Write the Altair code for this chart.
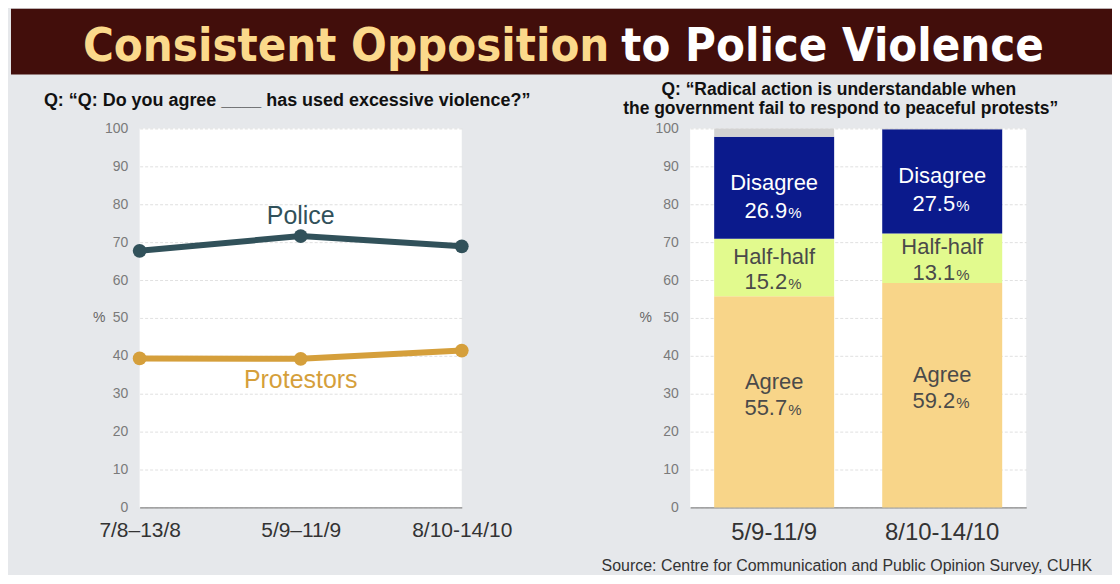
import altair as alt
import pandas as pd

# ---------------- data ----------------
line_periods = ["7/8–13/8", "5/9–11/9", "8/10-14/10"]
police = [67.7, 71.6, 68.9]
protestors = [39.3, 39.2, 41.4]

bar_periods = ["5/9-11/9", "8/10-14/10"]
agree = [55.7, 59.2]
halfhalf = [15.2, 13.1]
disagree = [26.9, 27.5]
other = [2.2, 0.2]

y_ticks = [0, 10, 20, 30, 40, 50, 60, 70, 80, 90, 100]

title_a = "Consistent Opposition"
title_b = "to Police Violence"
sub_left = "Q: “Q: Do you agree ____ has used excessive violence?”"
sub_right = ["Q: “Radical action is understandable when",
             "the government fail to respond to peaceful protests”"]
source = "Source: Centre for Communication and Public Opinion Survey, CUHK"

# ---------------- style ----------------
FONT = "Helvetica Neue, Liberation Sans, Arial, sans-serif"
COND = "Liberation Sans Narrow, DejaVu Sans Condensed, Arial Narrow, sans-serif"
BG = "#E6E8EB"
POLICE_C = "#31515A"
PROT_C = "#D59F3B"
W_L, W_R, H = 323, 337, 380

one = pd.DataFrame({"k": [0]})


def y_axis(title_x):
    return alt.Axis(values=y_ticks, title="%", titleAngle=0, titleFontSize=14,
                    titleFontWeight="normal", titleColor="#666", titleFont=FONT,
                    titleX=title_x, titleY=H / 2, titleAlign="center",
                    titleBaseline="middle",
                    labelFontSize=14, labelColor="#7a7a7a", labelFont=FONT,
                    labelPadding=12, tickSize=0, domain=False,
                    grid=True, gridColor="#D8D8D8", gridDash=[3, 2], gridWidth=0.8)


def y_enc(field, axis):
    return alt.Y(field, type="quantitative",
                 scale=alt.Scale(domain=[0, 100], nice=False),
                 axis=axis)


# ---------------- banner ----------------
banner_bg = alt.Chart(one).mark_rect(color="#420E0B").encode(
    x=alt.value(0), x2=alt.value(1104), y=alt.value(0), y2=alt.value(66))
banner_a = alt.Chart(one).mark_text(
    text=title_a, align="right", baseline="alphabetic", font=COND,
    fontSize=47, fontWeight="bold", color="#FBD98B").encode(
    x=alt.value(600), y=alt.value(52))
banner_b = alt.Chart(one).mark_text(
    text=title_b, align="left", baseline="alphabetic", font=COND,
    fontSize=47, fontWeight="bold", color="#FFFFFF").encode(
    x=alt.value(612), y=alt.value(52))
banner = alt.layer(banner_bg, banner_a, banner_b).properties(width=1104, height=66)

# ---------------- left: line chart ----------------
line_df = pd.DataFrame({
    "period": line_periods * 2,
    "series": ["Police"] * len(police) + ["Protestors"] * len(protestors),
    "value": police + protestors,
})
color_scale = alt.Scale(domain=["Police", "Protestors"], range=[POLICE_C, PROT_C])

x_line = alt.X("period:N", sort=line_periods,
               scale=alt.Scale(type="point", padding=0),
               axis=alt.Axis(title=None, labelAngle=0, labelFontSize=21,
                             labelColor="#333", labelFont=FONT, labelPadding=12,
                             tickSize=0, domainColor="#8a8a8a", domainWidth=1.2,
                             grid=False))

ya_l = y_axis(-41)
lines = alt.Chart(line_df).mark_line(strokeWidth=6).encode(
    x=x_line, y=y_enc("value", ya_l),
    color=alt.Color("series:N", scale=color_scale, legend=None))
pts = alt.Chart(line_df).mark_circle(size=190, opacity=1).encode(
    x=x_line, y=y_enc("value", ya_l),
    color=alt.Color("series:N", scale=color_scale, legend=None))

lab_df = pd.DataFrame({
    "period": [line_periods[1], line_periods[1]],
    "series": ["Police", "Protestors"],
    "value": [police[1], protestors[1]],
})
lab_police = alt.Chart(lab_df).transform_filter("datum.series == 'Police'").mark_text(
    fontSize=25, font=FONT, dy=-20, baseline="middle", color=POLICE_C).encode(
    x=x_line, y=y_enc("value", ya_l), text="series:N")
lab_prot = alt.Chart(lab_df).transform_filter("datum.series == 'Protestors'").mark_text(
    fontSize=25, font=FONT, dy=21, baseline="middle", color=PROT_C).encode(
    x=x_line, y=y_enc("value", ya_l), text="series:N")

sub_l = alt.Chart(one).mark_text(
    text=sub_left, align="left", baseline="alphabetic", font=FONT,
    fontSize=18, fontWeight="bold", color="#111").encode(
    x=alt.value(-96), y=alt.value(-23))

left = alt.layer(lines, pts, lab_police, lab_prot, sub_l).properties(
    width=W_L, height=H, view=alt.ViewBackground(fill="white", stroke=None))

# ---------------- right: stacked bars ----------------
cats = ["Agree", "Half-half", "Disagree", "Other"]
rows = []
for i, p in enumerate(bar_periods):
    lo = 0.0
    for c, v in zip(cats, [agree[i], halfhalf[i], disagree[i], other[i]]):
        rows.append({"period": p, "cat": c, "value": v, "lo": lo, "hi": lo + v,
                     "mid": lo + v / 2, "num": f"{v:.1f}"})
        lo += v
bar_df = pd.DataFrame(rows)

x_bar = alt.X("period:N", sort=bar_periods,
              scale=alt.Scale(paddingInner=0.286, paddingOuter=0.143),
              axis=alt.Axis(title=None, labelAngle=0, labelFontSize=24,
                            labelColor="#333", labelFont=FONT, labelPadding=13,
                            tickSize=0, domainColor="#8a8a8a", domainWidth=1.2,
                            grid=False))

ya_r = y_axis(-45)
bar_colors = alt.Scale(domain=cats, range=["#F8D589", "#E2FA8E", "#0B1A8C", "#D2D2D2"])
bars = alt.Chart(bar_df).mark_bar().encode(
    x=x_bar, y=y_enc("lo", ya_r), y2="hi:Q",
    fill=alt.Fill("cat:N", scale=bar_colors, legend=None))

label_layers = []
offsets = {"Agree": (-20, 5, "#4a4a4a"), "Half-half": (-11, 14, "#4a4a4a"),
           "Disagree": (-5, 22, "#FFFFFF")}
for c, (dw, dn, col) in offsets.items():
    src = alt.Chart(bar_df).transform_filter(f"datum.cat == '{c}'")
    enc = dict(x=x_bar, y=y_enc("mid", ya_r))
    label_layers.append(src.mark_text(fontSize=22, font=FONT, color=col, dy=dw,
                                      baseline="middle").encode(text="cat:N", **enc))
    label_layers.append(src.mark_text(fontSize=22, font=FONT, color=col, dy=dn + 8,
                                      dx=13, align="right",
                                      baseline="alphabetic").encode(text="num:N", **enc))
    label_layers.append(src.mark_text(fontSize=15, font=FONT, color=col, dy=dn + 8,
                                      dx=14, align="left", baseline="alphabetic",
                                      text="%").encode(**enc))

sub_r1 = alt.Chart(one).mark_text(
    text=sub_right[0], align="center", baseline="alphabetic", font=FONT,
    fontSize=17.5, fontWeight="bold", color="#111").encode(
    x=alt.value(149), y=alt.value(-34))
sub_r2 = alt.Chart(one).mark_text(
    text=sub_right[1], align="center", baseline="alphabetic", font=FONT,
    fontSize=17.5, fontWeight="bold", color="#111").encode(
    x=alt.value(151), y=alt.value(-14))
src_txt = alt.Chart(one).mark_text(
    text=source, align="right", baseline="alphabetic", font=FONT,
    fontSize=16, color="#333").encode(
    x=alt.value(403), y=alt.value(444))

right = alt.layer(bars, *label_layers, sub_r1, sub_r2, src_txt).properties(
    width=W_R, height=H, view=alt.ViewBackground(fill="white", stroke=None))


def spacer(w):
    return alt.Chart(one).mark_point(opacity=0).encode(
        x=alt.value(0), y=alt.value(0)).properties(width=w, height=H)


row = alt.hconcat(spacer(129), left, spacer(229), right, spacing=0,
                  bounds="flush").resolve_scale(color="independent", fill="independent")

chart = alt.vconcat(banner, row, spacing=54, bounds="flush").properties(
    padding=0, background=BG
).configure_view(stroke=None)

chart.save("out.html", embed_options={"renderer": "svg", "actions": False})
